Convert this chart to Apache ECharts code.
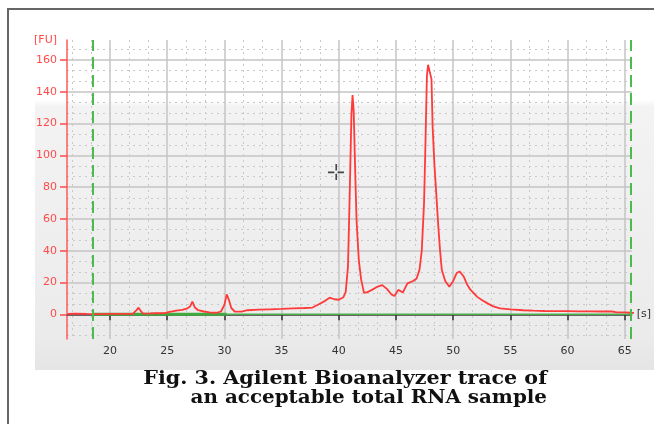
<!DOCTYPE html>
<html><head><meta charset="utf-8">
<script src="https://cdn.jsdelivr.net/npm/echarts@6/dist/echarts.min.js"></script>
<style>html,body{margin:0;padding:0;background:#fff}#c{width:654px;height:424px}</style>
</head><body><div id="c"></div>
<script>
// Electropherogram trace: migration time [s] and fluorescence [FU]
const traceTime = [16.3,17,18,19,20,21,22,22.3,22.5,22.7,22.9,23.5,24,24.8,25.2,25.8,26.3,26.7,27.0,27.2,27.4,27.7,28.2,28.7,29.3,29.7,30.0,30.2,30.4,30.6,30.9,31.5,32,33,34,35,36,37,37.7,38.3,38.8,39.2,39.6,40.0,40.4,40.6,40.8,40.95,41.1,41.2,41.3,41.45,41.55,41.75,41.95,42.2,42.5,42.9,43.4,43.8,44.2,44.6,44.85,45.2,45.6,46.0,46.5,46.8,47.05,47.25,47.45,47.55,47.7,47.8,47.95,48.1,48.2,48.35,48.5,48.7,48.85,49.0,49.3,49.66,50.0,50.3,50.55,50.9,51.2,51.5,52.1,52.5,53.0,53.5,54.1,55,56.1,57,58,59,60,61,62,63,63.9,64.3,65,65.6,66.3];
const traceFU = [0.3,0.5,0.3,0.2,0.3,0.3,0.4,2.5,4.2,2.0,0.5,0.6,0.7,0.8,1.6,2.4,2.8,3.6,5,8,4.5,2.6,1.8,1.2,1.0,1.8,6,12.6,9,4,1.8,1.7,2.6,3.0,3.2,3.4,3.8,4.0,4.3,6.5,8.5,10.5,9.5,9.2,10.8,14,30,75,125,138,128,85,59,34,22,13.5,14,15.4,17.5,18.4,16,12.5,11.5,15.4,13.8,19.5,21,22.6,28,40,70,100,150,157,156,148,118,95,78,55,40,28,21,17.4,21,26,27,24,19,15.5,11,9,6.9,5,3.8,3.2,2.6,2.3,2.1,2.0,2.0,1.9,1.9,1.8,1.8,1.3,1.2,1.0,0.9];
const markerTimes = [18.5, 65.5];
const baselineThick = [18.5, 30.2];
const baselineThin = [30.2, 65.5];
const xTickLabels = [20,25,30,35,40,45,50,55,60,65];
const yTickLabels = [0,20,40,60,80,100,120,140,160];
const cursorPoint = [39.75, 89.5];
const captionLines = ['Fig. 3. Agilent Bioanalyzer trace of', 'an acceptable total RNA sample'];

const chart = echarts.init(document.getElementById('c'), null, {renderer:'canvas'});
const FONT = '"DejaVu Sans", Verdana, sans-serif';
const CAPFONT = 'bold 18px "DejaVu Serif", serif';
const option = {
  animation: false,
  grid: {left: 67, right: 14, top: 40, bottom: 85, containLabel: false},
  graphic: [
    {type:'rect', z:-10, shape:{x:35, y:30, width:619, height:340},
     style:{fill:{type:'linear', x:0, y:0, x2:0, y2:1, colorStops:[
       {offset:0, color:'#ffffff'},{offset:0.205, color:'#ffffff'},{offset:0.225, color:'#f3f3f3'},
       {offset:0.9, color:'#ebebeb'},{offset:1, color:'#e5e5e5'}]}}},
    {type:'line', z:-5, shape:{x1:7, y1:9, x2:654, y2:9}, style:{stroke:'#666', lineWidth:2}},
    {type:'line', z:-5, shape:{x1:8, y1:8, x2:8, y2:424}, style:{stroke:'#666', lineWidth:2}},
    {type:'text', x:547, y:379, scaleX:1.146, style:{text:captionLines[0], x:0, y:0, align:'right', verticalAlign:'middle',
      font:CAPFONT, fill:'#111'}},
    {type:'text', x:547, y:398, scaleX:1.105, style:{text:captionLines[1], x:0, y:0, align:'right', verticalAlign:'middle',
      font:CAPFONT, fill:'#111'}}
  ],
  xAxis: {
    type:'value', min:16.24, max:65.6, splitNumber:10,
    name:'[s]', nameLocation:'end', nameGap:5,
    nameTextStyle:{color:'#333', fontSize:11, fontFamily:FONT, padding:[26,0,0,0]},
    axisLine:{show:true, lineStyle:{color:'#444', width:1.5}},
    axisTick:{show:true, length:6, lineStyle:{color:'#333', width:1.5}},
    axisLabel:{color:'#333', fontSize:11, fontFamily:FONT, margin:7, showMinLabel:false, showMaxLabel:false,
      formatter: v => xTickLabels.includes(Math.round(v*100)/100) ? String(v) : ''},
    splitLine:{show:true, showMinLine:false, showMaxLine:false, lineStyle:{color:'#c4c4c4', width:1.5}},
    minorTick:{show:false, splitNumber:3},
    minorSplitLine:{show:true, lineStyle:{color:'#c9c9c9', width:1, type:[2,4]}}
  },
  yAxis: {
    type:'value', min:-15.5, max:172.6, splitNumber:9,
    name:'[FU]', nameLocation:'end', nameGap:0,
    nameTextStyle:{color:'#ff4a4a', fontSize:11, fontFamily:FONT, align:'right', verticalAlign:'middle', padding:[0,10,0,0]},
    axisLine:{show:true, lineStyle:{color:'#ff5a5a', width:1.5}},
    axisTick:{show:true, length:7, lineStyle:{color:'#ff4a4a', width:1.5}},
    axisLabel:{color:'#ff4a4a', fontSize:11, fontFamily:FONT, margin:10, showMinLabel:false, showMaxLabel:false,
      formatter: v => yTickLabels.includes(Math.round(v*100)/100) ? String(v) : ''},
    splitLine:{show:true, showMinLine:false, showMaxLine:false, lineStyle:{color:'#c4c4c4', width:1.5}},
    minorTick:{show:false, splitNumber:3},
    minorSplitLine:{show:true, lineStyle:{color:'#c9c9c9', width:1, type:[2,4]}}
  },
  series: [
    {type:'line', name:'baseline1', silent:true, symbol:'none', z:2,
     data: baselineThick.map(t => [t, 0]), lineStyle:{color:'#3faa3f', width:3},
     markLine:{silent:true, symbol:['none','none'], label:{show:false},
       lineStyle:{color:'#4cbb4c', width:2, type:[12,6]},
       data: markerTimes.map(t => ({xAxis:t}))}},
    {type:'line', name:'baseline2', silent:true, symbol:'none', z:2,
     data: baselineThin.map(t => [t, 0]), lineStyle:{color:'#4cb04c', width:1.5}},
    {type:'line', name:'trace', silent:true, symbol:'none', z:3, clip:false,
     data: traceTime.map((t,i) => [t, traceFU[i]]),
     lineStyle:{color:'#ff3a3a', width:1.8},
     markPoint:{silent:true, symbol:'path://M0,7h6v1.5h-6z M9,7h6v1.5h-6z M7,0h1.5v6h-1.5z M7,9h1.5v6h-1.5z',
       symbolSize:[16,16], itemStyle:{color:'#444'}, label:{show:false},
       data:[{coord:cursorPoint}]}}
  ]
};
chart.setOption(option);
</script></body></html>
